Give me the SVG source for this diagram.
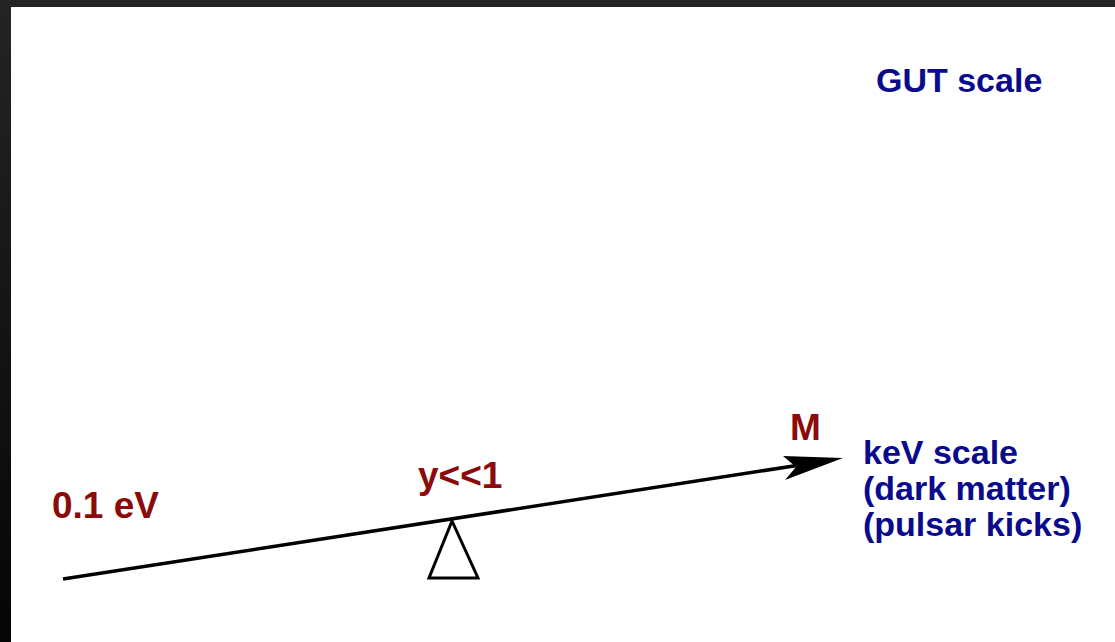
<svg xmlns="http://www.w3.org/2000/svg" width="1115" height="642" viewBox="0 0 1115 642">
<defs>
<linearGradient id="lbar" x1="0" y1="0" x2="0" y2="1"><stop offset="0" stop-color="#242424"/><stop offset="1" stop-color="#050505"/></linearGradient>
<style>
.b{font-family:"Liberation Sans",Arial,sans-serif;font-weight:bold;font-size:34px;fill:#0a0a8c}
.r{font-family:"Liberation Sans",Arial,sans-serif;font-weight:bold;font-size:37px;fill:#8b0a0a}
</style>
</defs>
<rect width="1115" height="642" fill="#ffffff"/>
<rect x="0" y="0" width="1115" height="7" fill="#242424"/>
<rect x="0" y="0" width="11" height="642" fill="url(#lbar)"/>
<g id="connectors">
<line x1="63" y1="579" x2="800" y2="465" stroke="#000" stroke-width="3.5"/>
<path d="M843,458 L783,456 L796,467 L785,480 Z" fill="#000"/>
</g>
<g id="fulcrum"><polygon points="452,521 429,578 478,578" fill="#fff" stroke="#000" stroke-width="3"/></g>
<g id="gut"><text class="b" x="876" y="92">GUT scale</text></g>
<g id="kev"><text class="b" x="863" y="464">keV scale</text><text class="b" x="863" y="500">(dark matter)</text><text class="b" x="863" y="536">(pulsar kicks)</text></g>
<g id="m"><text class="r" x="790" y="440">M</text></g>
<g id="y"><text class="r" x="418" y="488">y&lt;&lt;1</text></g>
<g id="ev"><text class="r" x="52" y="518">0.1 eV</text></g>
</svg>
